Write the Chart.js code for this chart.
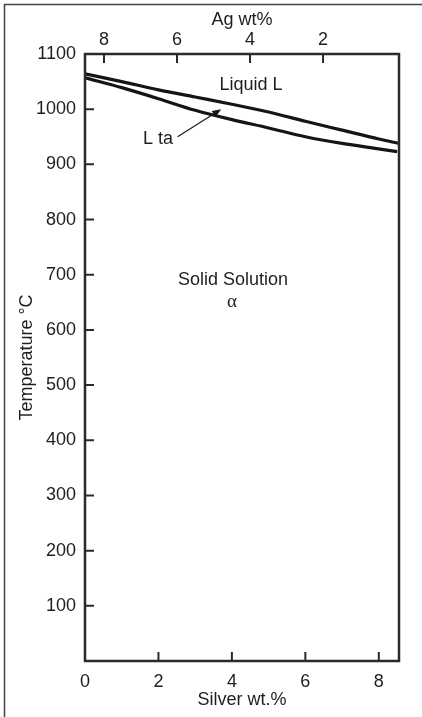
<!DOCTYPE html>
<html>
<head>
<meta charset="utf-8">
<script src="https://cdn.jsdelivr.net/npm/chart.js@4/dist/chart.umd.min.js"></script>
<style>
  html, body { margin: 0; padding: 0; background: #fff; }
  #wrap { width: 422px; height: 717px; position: relative; }
</style>
</head>
<body>
<div id="wrap"><canvas id="chart" width="422" height="717"></canvas></div>
<script>
// Tick values for the three axes
const silverTicks = [0, 2, 4, 6, 8];
const agTicks = [8, 6, 4, 2];
const tempTicks = [100, 200, 300, 400, 500, 600, 700, 800, 900, 1000, 1100];

// Liquidus (upper boundary)
const liquidusX = [0, 1, 2, 3, 4, 5, 6, 7, 8, 8.55];
const liquidusT = [1064, 1050, 1035, 1022, 1009, 995, 978, 962, 946, 938];

// Solidus (lower boundary)
const solidusX = [0, 1, 2, 3, 4, 5, 6, 7, 8, 8.5];
const solidusT = [1057, 1039, 1019, 998, 981, 966, 950, 938, 928, 923];

// Region labels and the arrow, in data coordinates
const regionLabels = [
  { text: 'Liquid L', x: 4.52, y: 1044, serif: false },
  { text: 'L ta', x: 1.99, y: 946, serif: false },
  { text: 'Solid Solution', x: 4.03, y: 690, serif: false },
  { text: 'α', x: 4.0, y: 650, serif: true }
];
const arrowFrom = { x: 2.52, y: 950 };
const arrowTo = { x: 3.71, y: 1000 };

const FONT = "'Liberation Sans', Arial, Helvetica, sans-serif";
const SERIF = "'Liberation Serif', 'Times New Roman', serif";
const FS = 18;
const TXT = '#1e1e1e';
const INK = '#151515';

Chart.defaults.font.family = FONT;
Chart.defaults.font.size = FS;
Chart.defaults.color = TXT;

const toPoints = (xs, ys) => xs.map((x, i) => ({ x: x, y: ys[i] }));
const setTicks = list => scale => { scale.ticks = list.map(v => ({ value: v })); };
const plain = v => String(v);

const decorations = {
  id: 'decorations',
  afterDraw(chart) {
    const { ctx, chartArea: a, scales } = chart;
    const xs = scales.x, xt = scales.xTop, ys = scales.y;
    ctx.save();

    // outer page frame (left and top edges)
    ctx.strokeStyle = '#444';
    ctx.lineWidth = 1.5;
    ctx.beginPath();
    ctx.moveTo(4.5, chart.height);
    ctx.lineTo(4.5, 4.5);
    ctx.lineTo(chart.width, 4.5);
    ctx.stroke();

    // plot frame
    ctx.strokeStyle = '#2a2a2a';
    ctx.lineWidth = 2.5;
    ctx.strokeRect(a.left, a.top, a.right - a.left, a.bottom - a.top);

    // inward tick marks
    const TL = 9;
    ctx.lineWidth = 2;
    ctx.beginPath();
    silverTicks.forEach(v => {
      const px = xs.getPixelForValue(v);
      ctx.moveTo(px, a.bottom);
      ctx.lineTo(px, a.bottom - TL);
    });
    agTicks.forEach(v => {
      const px = xt.getPixelForValue(v);
      ctx.moveTo(px, a.top);
      ctx.lineTo(px, a.top + TL);
    });
    tempTicks.forEach(v => {
      const py = ys.getPixelForValue(v);
      ctx.moveTo(a.left, py);
      ctx.lineTo(a.left + TL, py);
    });
    ctx.stroke();

    // region labels
    ctx.fillStyle = TXT;
    ctx.textAlign = 'center';
    ctx.textBaseline = 'middle';
    regionLabels.forEach(l => {
      ctx.font = l.serif ? (FS + 1) + 'px ' + SERIF : FS + 'px ' + FONT;
      ctx.fillText(l.text, xs.getPixelForValue(l.x), ys.getPixelForValue(l.y));
    });

    // arrow pointing into the two-phase band
    const x0 = xs.getPixelForValue(arrowFrom.x), y0 = ys.getPixelForValue(arrowFrom.y);
    const x1 = xs.getPixelForValue(arrowTo.x), y1 = ys.getPixelForValue(arrowTo.y);
    const ang = Math.atan2(y1 - y0, x1 - x0);
    const head = 9, half = 3.5;
    ctx.strokeStyle = INK;
    ctx.lineWidth = 1.1;
    ctx.beginPath();
    ctx.moveTo(x0, y0);
    ctx.lineTo(x1 - Math.cos(ang) * head * 0.8, y1 - Math.sin(ang) * head * 0.8);
    ctx.stroke();
    ctx.fillStyle = INK;
    ctx.beginPath();
    ctx.moveTo(x1, y1);
    ctx.lineTo(x1 - Math.cos(ang) * head - Math.sin(ang) * half, y1 - Math.sin(ang) * head + Math.cos(ang) * half);
    ctx.lineTo(x1 - Math.cos(ang) * head + Math.sin(ang) * half, y1 - Math.sin(ang) * head - Math.cos(ang) * half);
    ctx.closePath();
    ctx.fill();

    ctx.restore();
  }
};

new Chart(document.getElementById('chart'), {
  type: 'line',
  data: {
    datasets: [
      {
        label: 'Liquidus',
        data: toPoints(liquidusX, liquidusT),
        borderColor: INK,
        borderWidth: 3.2,
        pointRadius: 0,
        cubicInterpolationMode: 'monotone',
        xAxisID: 'x',
        yAxisID: 'y'
      },
      {
        label: 'Solidus',
        data: toPoints(solidusX, solidusT),
        borderColor: INK,
        borderWidth: 3.2,
        pointRadius: 0,
        cubicInterpolationMode: 'monotone',
        xAxisID: 'x',
        yAxisID: 'y'
      }
    ]
  },
  options: {
    responsive: false,
    animation: false,
    devicePixelRatio: 1,
    layout: { padding: { left: 0, right: 23, top: 0, bottom: 0 } },
    plugins: { legend: { display: false }, tooltip: { enabled: false } },
    scales: {
      x: {
        type: 'linear',
        position: 'bottom',
        min: 0,
        max: 8.55,
        afterBuildTicks: setTicks(silverTicks),
        afterFit: s => { s.height = 56; },
        grid: { display: false, drawTicks: false },
        border: { display: false },
        ticks: { padding: 10, maxRotation: 0, autoSkip: false, color: TXT, callback: plain },
        title: { display: true, text: 'Silver wt.%', color: TXT, font: { size: FS }, padding: { top: 0, bottom: 6 } }
      },
      xTop: {
        type: 'linear',
        position: 'top',
        reverse: true,
        min: -0.08,
        max: 8.52,
        afterBuildTicks: setTicks(agTicks),
        afterFit: s => { s.height = 54; },
        grid: { display: false, drawTicks: false },
        border: { display: false },
        ticks: { padding: 3, maxRotation: 0, autoSkip: false, color: TXT, callback: plain },
        title: { display: true, text: 'Ag wt%', color: TXT, font: { size: FS }, padding: { top: 9, bottom: 0 } }
      },
      y: {
        type: 'linear',
        position: 'left',
        min: 0,
        max: 1100,
        afterBuildTicks: setTicks(tempTicks),
        afterFit: s => { s.width = 85; },
        grid: { display: false, drawTicks: false },
        border: { display: false },
        ticks: { padding: 9, autoSkip: false, color: TXT, callback: plain },
        title: { display: true, text: 'Temperature °C', color: TXT, font: { size: FS }, padding: { top: 16, bottom: 0 } }
      }
    }
  },
  plugins: [decorations]
});
</script>
</body>
</html>
